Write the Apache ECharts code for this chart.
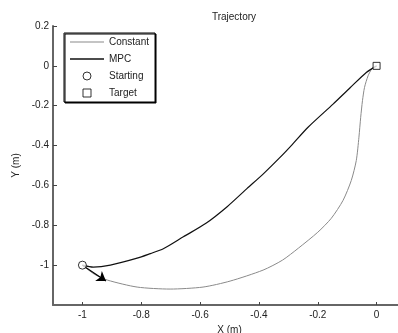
<!DOCTYPE html>
<html>
<head>
<meta charset="utf-8">
<script src="https://cdn.jsdelivr.net/npm/echarts@6/dist/echarts.min.js"></script>
<style>
  html, body { margin: 0; padding: 0; background: #fff; }
  #chart { width: 398px; height: 333px; }
</style>
</head>
<body>
<div id="chart"></div>
<script>
// trajectory data, [x, y] in metres
const constantPath = [
  [-1, -1], [-0.96, -1.045], [-0.915, -1.075], [-0.814, -1.11], [-0.702, -1.12],
  [-0.59, -1.11], [-0.498, -1.08], [-0.386, -1.025], [-0.32, -0.975],
  [-0.266, -0.915], [-0.2, -0.835], [-0.154, -0.765], [-0.114, -0.675],
  [-0.086, -0.575], [-0.069, -0.475], [-0.06, -0.358], [-0.054, -0.258],
  [-0.048, -0.175], [-0.041, -0.108], [-0.029, -0.05], [-0.016, -0.015], [0, 0]
]
const mpcPath = [
  [-1, -1], [-0.963, -1.01], [-0.905, -1.0], [-0.814, -0.965], [-0.769, -0.942],
  [-0.725, -0.918], [-0.657, -0.858], [-0.58, -0.79], [-0.509, -0.708],
  [-0.44, -0.615], [-0.385, -0.542], [-0.33, -0.462], [-0.29, -0.4],
  [-0.233, -0.308], [-0.148, -0.192], [-0.09, -0.11], [-0.035, -0.033], [0, 0]
]
const startPoint = [[-1, -1]]
const targetPoint = [[0, 0]]
const headingArrow = [[-1, -1], [-0.92, -1.08]]
const xTicks = [-1, -0.8, -0.6, -0.4, -0.2, 0]
const yTicks = [-1, -0.8, -0.6, -0.4, -0.2, 0, 0.2]

const font = 'Liberation Sans, Arial, sans-serif'
const chart = echarts.init(document.getElementById('chart'))

chart.setOption({
  animation: false,
  title: {
    text: 'Trajectory',
    left: 229,
    top: 7,
    textAlign: 'center',
    textStyle: { fontSize: 10, fontWeight: 'normal', color: '#222', fontFamily: font }
  },
  legend: {
    orient: 'vertical',
    left: 64,
    top: 33,
    padding: [4, 6, 4, 6],
    itemWidth: 34,
    itemHeight: 8,
    itemGap: 7,
    backgroundColor: '#fff',
    borderColor: '#000',
    borderWidth: 1,
    shadowColor: '#000',
    shadowOffsetX: 1,
    shadowOffsetY: 1,
    shadowBlur: 0,
    textStyle: { fontSize: 10, color: '#222', fontFamily: font },
    data: [
      { name: 'Constant', icon: 'path://M0,0H34V1H0Z', itemStyle: { color: '#8a8a8a', borderWidth: 0 } },
      { name: 'MPC', icon: 'path://M0,0H34V1.4H0Z', itemStyle: { color: '#111', borderWidth: 0 } },
      { name: 'Starting', icon: 'circle', itemStyle: { color: '#fff', borderColor: '#000', borderWidth: 1 } },
      { name: 'Target', icon: 'path://M0,0H8V8H0Z', itemStyle: { color: '#fff', borderColor: '#000', borderWidth: 1 } }
    ]
  },
  grid: { left: 53, right: -8, top: 26, bottom: 28, outerBoundsMode: 'none', containLabel: false },
  xAxis: {
    type: 'value',
    min: -1.1,
    max: 0.1,
    name: 'X (m)',
    nameLocation: 'middle',
    nameGap: 14,
    nameTextStyle: { fontSize: 10, color: '#222', fontFamily: font },
    splitLine: { show: false },
    axisLine: { onZero: false, lineStyle: { color: '#666', width: 2 } },
    axisTick: { inside: true, length: 3, customValues: xTicks, lineStyle: { color: '#444', width: 1 } },
    axisLabel: { customValues: xTicks, fontSize: 10, color: '#222', fontFamily: font, margin: 5 }
  },
  yAxis: {
    type: 'value',
    min: -1.2,
    max: 0.2,
    name: 'Y (m)',
    nameLocation: 'middle',
    nameGap: 29,
    nameTextStyle: { fontSize: 10, color: '#222', fontFamily: font },
    splitLine: { show: false },
    axisLine: { onZero: false, lineStyle: { color: '#666', width: 2 } },
    axisTick: { inside: true, length: 4, customValues: yTicks, lineStyle: { color: '#444', width: 1 } },
    axisLabel: { customValues: yTicks, fontSize: 10, color: '#222', fontFamily: font, margin: 4 }
  },
  series: [
    {
      name: 'Constant',
      type: 'line',
      data: constantPath,
      smooth: 0.25,
      symbol: 'none',
      lineStyle: { color: '#8a8a8a', width: 1 },
      itemStyle: { color: '#8a8a8a' }
    },
    {
      name: 'MPC',
      type: 'line',
      data: mpcPath,
      smooth: 0.25,
      symbol: 'none',
      lineStyle: { color: '#111', width: 1.2 },
      itemStyle: { color: '#111' },
      markLine: {
        silent: true,
        symbol: ['none', 'arrow'],
        symbolSize: 9,
        label: { show: false },
        lineStyle: { color: '#000', width: 1.2, type: 'solid' },
        data: [[{ coord: headingArrow[0] }, { coord: headingArrow[1] }]]
      }
    },
    {
      name: 'Starting',
      type: 'scatter',
      data: startPoint,
      symbol: 'circle',
      symbolSize: 8,
      itemStyle: { color: '#fff', borderColor: '#000', borderWidth: 1 },
      z: 5
    },
    {
      name: 'Target',
      type: 'scatter',
      data: targetPoint,
      symbol: 'rect',
      symbolSize: 7,
      itemStyle: { color: '#fff', borderColor: '#000', borderWidth: 1 },
      z: 5
    }
  ]
})
</script>
</body>
</html>
